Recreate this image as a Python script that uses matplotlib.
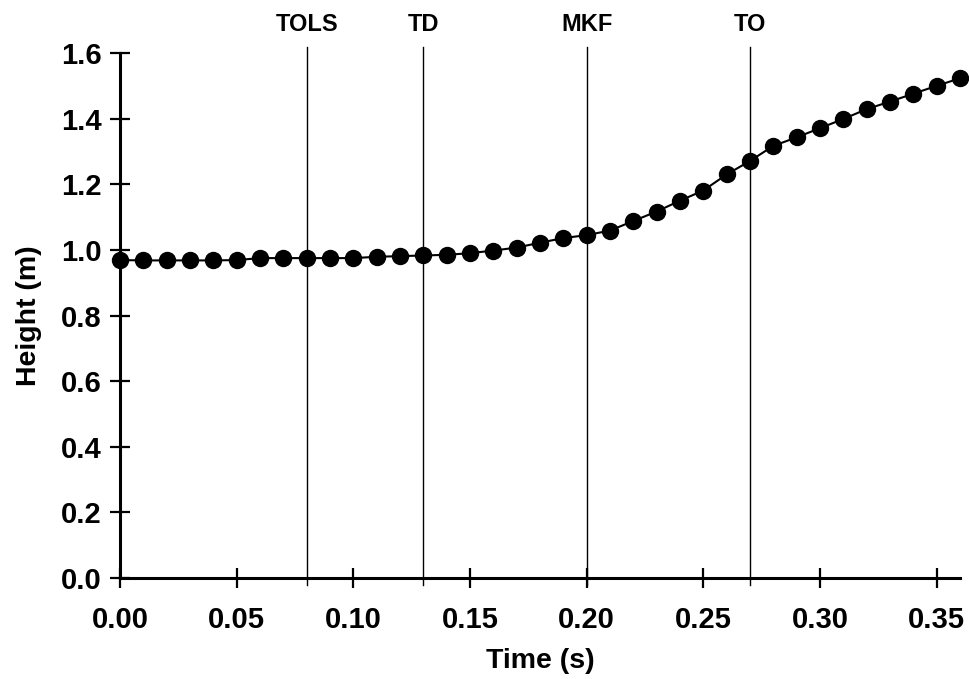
import numpy as np
import matplotlib.pyplot as plt

plt.rcParams['font.family'] = ['Liberation Sans', 'DejaVu Sans']
plt.rcParams['font.weight'] = 'bold'

# data
time_s = [0.00, 0.01, 0.02, 0.03, 0.04, 0.05, 0.06, 0.07, 0.08, 0.09,
          0.10, 0.11, 0.12, 0.13, 0.14, 0.15, 0.16, 0.17, 0.18, 0.19,
          0.20, 0.21, 0.22, 0.23, 0.24, 0.25, 0.26, 0.27, 0.28, 0.29,
          0.30, 0.31, 0.32, 0.33, 0.34, 0.35, 0.36]
height_m = [0.969, 0.968, 0.968, 0.968, 0.968, 0.969, 0.975, 0.975, 0.975, 0.975,
            0.975, 0.979, 0.981, 0.983, 0.985, 0.990, 0.998, 1.007, 1.022, 1.036,
            1.045, 1.059, 1.088, 1.117, 1.150, 1.181, 1.230, 1.271, 1.317, 1.343,
            1.371, 1.399, 1.429, 1.452, 1.476, 1.500, 1.523]
event_names = ['TOLS', 'TD', 'MKF', 'TO']
event_times = [0.08, 0.13, 0.20, 0.27]

fig = plt.figure(figsize=(9.69, 6.79), dpi=100)
ax = fig.add_axes([0.1238, 0.1487, 0.8669, 0.7732])

# event lines and labels
for name, t in zip(event_names, event_times):
    ax.axvline(t, ymin=-0.013, ymax=1.011, color='black', lw=1.0, clip_on=False, zorder=1)
    ax.text(t, 1.055, name, transform=ax.get_xaxis_transform(), ha='center', va='center',
            fontsize=17, fontweight='bold')

ax.plot(time_s, height_m, color='black', lw=1.5, marker='o', markersize=11.5, zorder=3, clip_on=False)

ax.set_xlim(0, 0.36)
ax.set_ylim(0, 1.6)
ax.set_xticks(np.arange(0, 0.351, 0.05))
ax.set_yticks(np.arange(0, 1.61, 0.2))
ax.xaxis.set_major_formatter(plt.FormatStrFormatter('%.2f'))
ax.yaxis.set_major_formatter(plt.FormatStrFormatter('%.1f'))

ax.spines['top'].set_visible(False)
ax.spines['right'].set_visible(False)
ax.spines['left'].set_linewidth(2.2)
ax.spines['bottom'].set_linewidth(2.2)
ax.tick_params(direction='inout', length=14, width=1.6, labelsize=21)
ax.tick_params(axis='x', pad=13)
ax.tick_params(axis='y', pad=6)

ax.set_xlabel('Time (s)', fontsize=20.5, fontweight='bold', labelpad=10)
ax.set_ylabel('Height (m)', fontsize=20.5, fontweight='bold', labelpad=14)

plt.savefig('out.png', dpi=100)
